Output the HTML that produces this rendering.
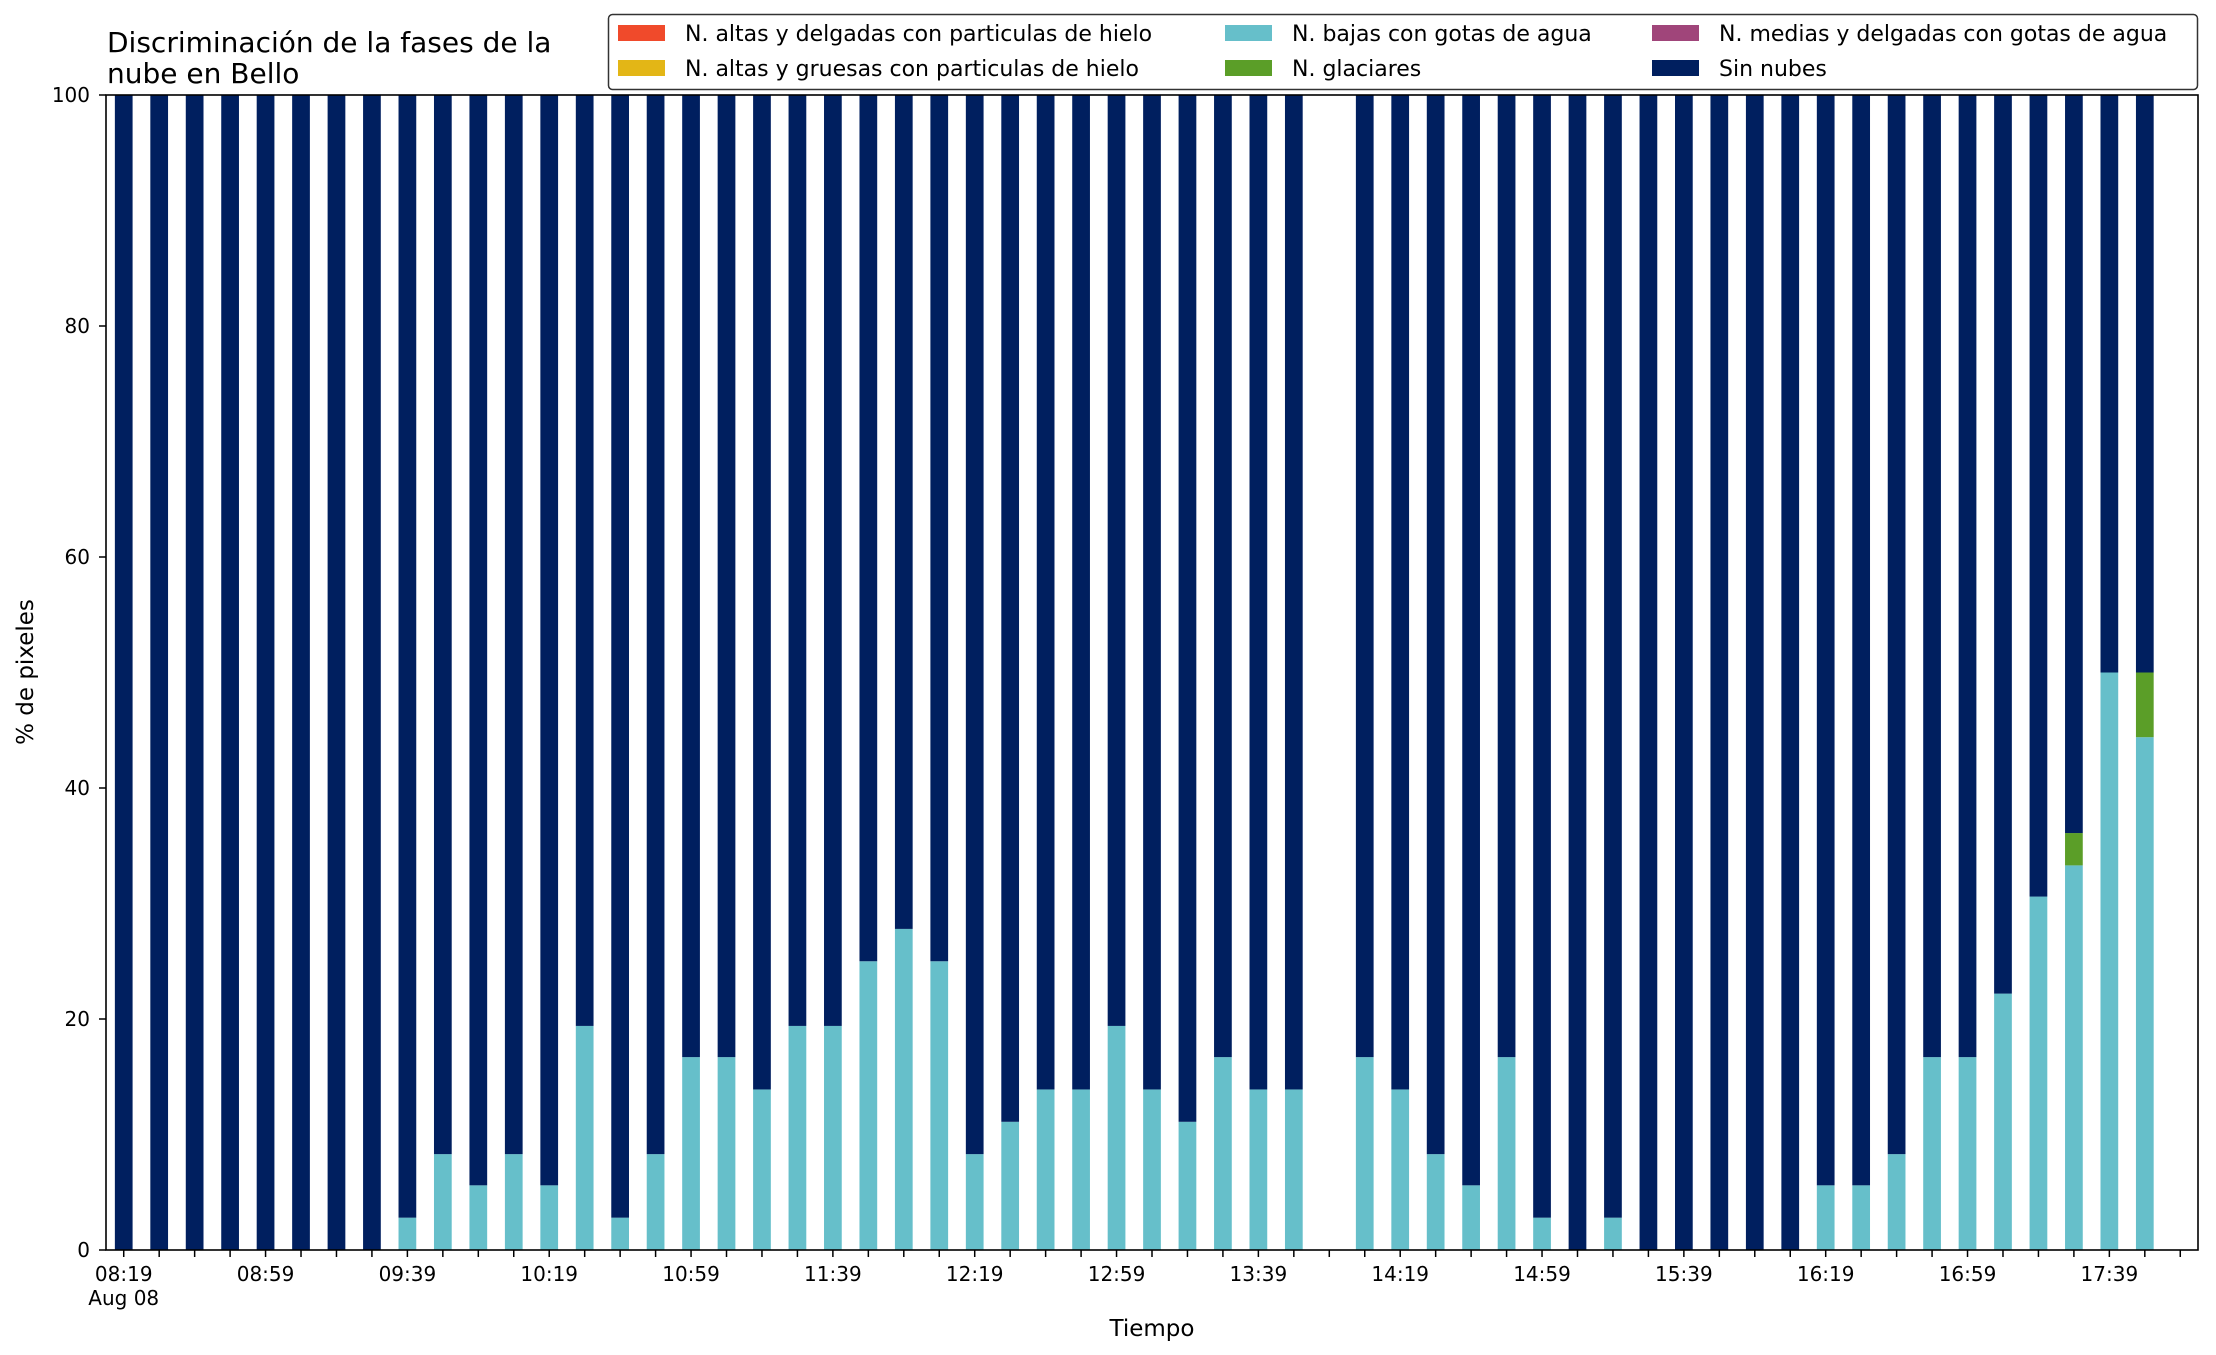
<!DOCTYPE html>
<html><head><meta charset="utf-8"><style>
html,body{margin:0;padding:0;background:#fff;}
svg{display:block;font-family:"DejaVu Sans","Liberation Sans",sans-serif;}
</style></head><body>
<svg id="chart" width="2216" height="1355" viewBox="0 0 2216 1355" xmlns="http://www.w3.org/2000/svg">
<rect width="2216" height="1355" fill="#fff"/>
<text x="107" y="52" font-size="28" fill="#000">Discriminación de la fases de la</text>
<text x="107" y="83" font-size="28" fill="#000">nube en Bello</text>
<g id="bars"></g>
<g id="axes"></g>
<rect x="106" y="95" width="2092" height="1155" fill="none" stroke="#000" stroke-width="1.6"/>
<text x="1152" y="1336" font-size="23" text-anchor="middle">Tiempo</text>
<text transform="translate(33,672) rotate(-90)" font-size="23" text-anchor="middle">% de pixeles</text>
<g>
<rect x="608.5" y="14.5" width="1589" height="75" rx="4" fill="#fff" stroke="#333" stroke-width="1.5"/>
<g><rect x="618" y="25" width="47" height="16" fill="#f04a2b"/><text x="685" y="41" font-size="22">N. altas y delgadas con particulas de hielo</text></g>
<g><rect x="618" y="60" width="47" height="16" fill="#e3b616"/><text x="685" y="76" font-size="22">N. altas y gruesas con particulas de hielo</text></g>
<g><rect x="1225" y="25" width="47" height="16" fill="#66bfca"/><text x="1292" y="41" font-size="22">N. bajas con gotas de agua</text></g>
<g><rect x="1225" y="60" width="47" height="16" fill="#5b9e28"/><text x="1292" y="76" font-size="22">N. glaciares</text></g>
<g><rect x="1652" y="25" width="47" height="16" fill="#a0457a"/><text x="1719" y="41" font-size="22">N. medias y delgadas con gotas de agua</text></g>
<g><rect x="1652" y="60" width="47" height="16" fill="#001f5f"/><text x="1719" y="76" font-size="22">Sin nubes</text></g>
</g>
</svg>
<script>
const times = ["08:19","08:29","08:39","08:49","08:59","09:09","09:19","09:29","09:39","09:49","09:59","10:09","10:19","10:29","10:39","10:49","10:59","11:09","11:19","11:29","11:39","11:49","11:59","12:09","12:19","12:29","12:39","12:49","12:59","13:09","13:19","13:29","13:39","13:49","13:59","14:09","14:19","14:29","14:39","14:49","14:59","15:09","15:19","15:29","15:39","15:49","15:59","16:09","16:19","16:29","16:39","16:49","16:59","17:09","17:19","17:29","17:39","17:49","17:59"];
const present = [1,1,1,1,1,1,1,1,1,1,1,1,1,1,1,1,1,1,1,1,1,1,1,1,1,1,1,1,1,1,1,1,1,1,0,1,1,1,1,1,1,1,1,1,1,1,1,1,1,1,1,1,1,1,1,1,1,1,0];
const altasDelgadas = new Array(59).fill(0);
const altasGruesas = new Array(59).fill(0);
const bajasAgua = [0,0,0,0,0,0,0,0,2.8,8.3,5.6,8.3,5.6,19.4,2.8,8.3,16.7,16.7,13.9,19.4,19.4,25,27.8,25,8.3,11.1,13.9,13.9,19.4,13.9,11.1,16.7,13.9,13.9,0,16.7,13.9,8.3,5.6,16.7,2.8,0,2.8,0,0,0,0,0,5.6,5.6,8.3,16.7,16.7,22.2,30.6,33.3,50,44.4,0];
const glaciares = [0,0,0,0,0,0,0,0,0,0,0,0,0,0,0,0,0,0,0,0,0,0,0,0,0,0,0,0,0,0,0,0,0,0,0,0,0,0,0,0,0,0,0,0,0,0,0,0,0,0,0,0,0,0,0,2.8,0,5.6,0];
const mediasDelgadas = new Array(59).fill(0);
const yTicks = [0,20,40,60,80,100];

const NS = "http://www.w3.org/2000/svg";
const L=106,R=2198,T=95,B=1250;
const xs = i => L + (i+0.5)*(R-L)/times.length;
const ys = v => B - v/100*(B-T);
const bw = 0.5*(R-L)/times.length;
const bars = document.getElementById('bars');
const axes = document.getElementById('axes');
function mk(tag, attrs, parent){const e=document.createElementNS(NS,tag);for(const k in attrs)e.setAttribute(k,attrs[k]);parent.appendChild(e);return e;}
const series = [
 {name:'altas-delgadas',vals:altasDelgadas,color:'#f04a2b'},
 {name:'altas-gruesas',vals:altasGruesas,color:'#e3b616'},
 {name:'bajas-agua',vals:bajasAgua,color:'#66bfca'},
 {name:'glaciares',vals:glaciares,color:'#5b9e28'},
 {name:'medias-delgadas',vals:mediasDelgadas,color:'#a0457a'}
];
for(let i=0;i<times.length;i++){
  if(!present[i]) continue;
  let base=0;
  for(const s of series){
    const v=s.vals[i];
    if(v>0){
      const r=mk('rect',{x:xs(i)-bw/2,y:ys(base+v),width:bw,height:ys(base)-ys(base+v),fill:s.color},bars);
      
      
    }
    base+=v;
  }
  const r=mk('rect',{x:xs(i)-bw/2,y:ys(100),width:bw,height:ys(base)-ys(100),fill:'#001f5f'},bars);
  
  
}
for(const t of yTicks){
  const y=ys(t);
  const tk=mk('line',{x1:L-7,x2:L,y1:y,y2:y,stroke:'#000','stroke-width':1.5},axes);
  
  
  const tx=mk('text',{x:L-16,y:y+7,'font-size':20,'text-anchor':'end'},axes);
  
  
  tx.textContent=t;
}
for(let i=0;i<times.length;i++){
  const x=xs(i);
  const tk=mk('line',{x1:x,x2:x,y1:B,y2:B+7,stroke:'#000','stroke-width':1.5},axes);
  
  
  if(i%4===0 && i<times.length-1){
    const tx=mk('text',{x:x,y:1281,'font-size':20,'text-anchor':'middle'},axes);
    
    
    tx.textContent=times[i];
    if(i===0){
      const d=mk('text',{x:x,y:1305,'font-size':20,'text-anchor':'middle'},axes);
      
      
      d.textContent='Aug 08';
    }
  }
}
</script>
</body></html>
